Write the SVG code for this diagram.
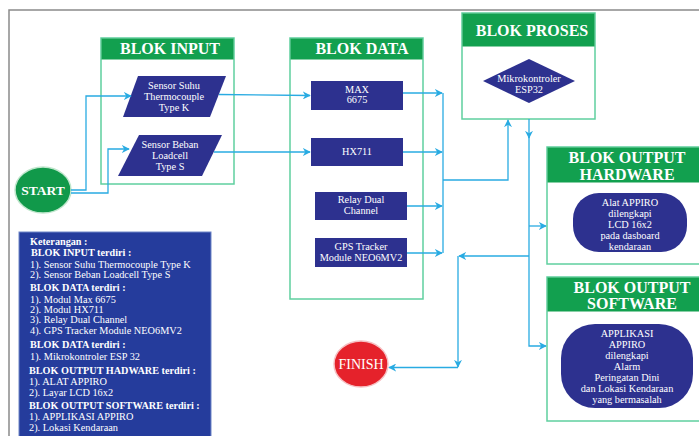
<svg xmlns="http://www.w3.org/2000/svg" width="699" height="436" viewBox="0 0 699 436">
<defs>
<style>
.frame{fill:none;stroke:#8a8a8a;stroke-width:1.5}
.blk{fill:#ffffff;stroke:#5fcf9f;stroke-width:1.5}
.hdr{fill:#12a04f}
.ttl{font-family:"Liberation Serif",serif;font-weight:bold;font-size:16px;fill:#ffffff;text-anchor:middle}
.nd{fill:#2d318f}
.nt{font-family:"Liberation Serif",serif;font-size:10.3px;fill:#ffffff;text-anchor:middle}
.lg{font-family:"Liberation Serif",serif;font-size:10.3px;fill:#ffffff}
.lgb{font-family:"Liberation Serif",serif;font-size:10.2px;font-weight:bold;fill:#ffffff}
.cn{fill:none;stroke:#29abe2;stroke-width:1.3}
</style>
<marker id="ar" viewBox="0 0 10 10" refX="9" refY="5" markerWidth="8" markerHeight="8" markerUnits="userSpaceOnUse" orient="auto">
<path d="M0,0 L10,5 L0,10 L3,5 Z" fill="#29abe2"/>
</marker>
</defs>
<rect x="0" y="0" width="699" height="436" fill="#ffffff"/>
<rect class="frame" x="9" y="10" width="700" height="440"/>

<g id="blok-input">
<rect class="blk" x="101" y="38" width="133" height="146"/>
<rect class="hdr" x="101.5" y="38.5" width="132" height="21"/>
<text class="ttl" x="170" y="54">BLOK INPUT</text>
</g>
<g id="sensor-suhu">
<polygon class="nd" points="138,76 226,76 210,117 123,117"/>
<text class="nt" x="174" y="89">Sensor Suhu</text>
<text class="nt" x="174" y="100">Thermocouple</text>
<text class="nt" x="174" y="111">Type K</text>
</g>
<g id="sensor-beban">
<polygon class="nd" points="139,135 222,135 202,176 118,176"/>
<text class="nt" x="170" y="148">Sensor Beban</text>
<text class="nt" x="170" y="159">Loadcell</text>
<text class="nt" x="170" y="170">Type S</text>
</g>

<g id="blok-data">
<rect class="blk" x="290" y="38" width="133" height="261"/>
<rect class="hdr" x="290.5" y="38.5" width="132" height="21"/>
<text class="ttl" x="362" y="54">BLOK DATA</text>
</g>
<g id="max6675">
<rect class="nd" x="311" y="81" width="92" height="29"/>
<text class="nt" x="357" y="93">MAX</text>
<text class="nt" x="357" y="103">6675</text>
</g>
<g id="hx711">
<rect class="nd" x="311" y="138" width="92" height="28"/>
<text class="nt" x="357" y="155">HX711</text>
</g>
<g id="relay">
<rect class="nd" x="315" y="192" width="92" height="28"/>
<text class="nt" x="361" y="203">Relay Dual</text>
<text class="nt" x="361" y="214">Channel</text>
</g>
<g id="gps">
<rect class="nd" x="315" y="238" width="92" height="29"/>
<text class="nt" x="361" y="250">GPS Tracker</text>
<text class="nt" x="361" y="261">Module NEO6MV2</text>
</g>

<g id="blok-proses">
<rect class="blk" x="462" y="13" width="133" height="106"/>
<rect class="hdr" x="462.5" y="13.5" width="132" height="33"/>
<text class="ttl" x="532" y="36">BLOK PROSES</text>
</g>
<g id="esp32">
<polygon class="nd" points="483,81 529,59 575,81 529,103"/>
<text class="nt" x="529" y="82">Mikrokontroler</text>
<text class="nt" x="529" y="93">ESP32</text>
</g>

<g id="blok-output-hardware">
<rect class="blk" x="547" y="147" width="170" height="117"/>
<rect class="hdr" x="547.5" y="147.5" width="169" height="35"/>
<text class="ttl" x="627" y="163">BLOK OUTPUT</text>
<text class="ttl" x="627" y="180">HARDWARE</text>
</g>
<g id="alat-appiro">
<rect class="nd" x="573" y="193" width="114" height="59" rx="26" ry="26"/>
<text class="nt" x="630" y="206">Alat APPIRO</text>
<text class="nt" x="630" y="217">dilengkapi</text>
<text class="nt" x="630" y="228">LCD 16x2</text>
<text class="nt" x="630" y="239">pada dasboard</text>
<text class="nt" x="630" y="250">kendaraan</text>
</g>

<g id="blok-output-software">
<rect class="blk" x="547" y="277" width="170" height="144"/>
<rect class="hdr" x="547.5" y="277.5" width="169" height="34"/>
<text class="ttl" x="632" y="293">BLOK OUTPUT</text>
<text class="ttl" x="632" y="309">SOFTWARE</text>
</g>
<g id="aplikasi-appiro">
<rect class="nd" x="561" y="324" width="132" height="84" rx="34" ry="34"/>
<text class="nt" x="627" y="337">APPLIKASI</text>
<text class="nt" x="627" y="348">APPIRO</text>
<text class="nt" x="627" y="359">dilengkapi</text>
<text class="nt" x="627" y="370">Alarm</text>
<text class="nt" x="627" y="381">Peringatan Dini</text>
<text class="nt" x="627" y="392">dan Lokasi Kendaraan</text>
<text class="nt" x="627" y="403">yang bermasalah</text>
</g>

<g id="start">
<ellipse cx="43" cy="190" rx="28" ry="23" fill="#11994a" stroke="#bfe6cc" stroke-width="1.5"/>
<text x="43" y="195" font-family="Liberation Serif, serif" font-size="13.5" font-weight="bold" fill="#ffffff" text-anchor="middle">START</text>
</g>
<g id="finish">
<ellipse cx="361" cy="364" rx="27" ry="23" fill="#e5222b" stroke="#f6c0c3" stroke-width="1.5"/>
<text x="361" y="369" font-family="Liberation Serif, serif" font-size="14" fill="#ffffff" text-anchor="middle">FINISH</text>
</g>

<g id="keterangan">
<rect x="19" y="232" width="192" height="220" fill="#253c9c" stroke="#6f86c8" stroke-width="1"/>
<text class="lgb" x="30" y="244.5">Keterangan :</text>
<text class="lgb" x="31" y="256">BLOK INPUT terdiri :</text>
<text class="lg" x="30" y="267.5">1). Sensor Suhu Thermocouple Type K</text>
<text class="lg" x="30" y="278">2). Sensor Beban Loadcell Type S</text>
<text class="lgb" x="30" y="290.5">BLOK DATA terdiri :</text>
<text class="lg" x="30" y="302.5">1). Modul Max 6675</text>
<text class="lg" x="30" y="312.5">2). Modul HX711</text>
<text class="lg" x="30" y="323">3). Relay Dual Channel</text>
<text class="lg" x="30" y="333.5">4). GPS Tracker Module NEO6MV2</text>
<text class="lgb" x="30" y="347.5">BLOK DATA terdiri :</text>
<text class="lg" x="30" y="359.5">1). Mikrokontroler ESP 32</text>
<text class="lgb" x="29" y="373.5">BLOK OUTPUT HADWARE terdiri :</text>
<text class="lg" x="29" y="384.5">1). ALAT APPIRO</text>
<text class="lg" x="29" y="395.5">2). Layar LCD 16x2</text>
<text class="lgb" x="29" y="408.5">BLOK OUTPUT SOFTWARE terdiri :</text>
<text class="lg" x="29" y="419.5">1). APPLIKASI APPIRO</text>
<text class="lg" x="29" y="430.5">2). Lokasi Kendaraan</text>
</g>

<g id="connectors">
<path class="cn" d="M71,190 H86 V96 H131" marker-end="url(#ar)"/>
<path class="cn" d="M71,193 H108 V149 H129" marker-end="url(#ar)"/>
<path class="cn" d="M219,94.5 L310,95.5" marker-end="url(#ar)"/>
<path class="cn" d="M214,152 H310" marker-end="url(#ar)"/>
<path class="cn" d="M403,93 H442" marker-end="url(#ar)"/>
<path class="cn" d="M403,152 H442" marker-end="url(#ar)"/>
<path class="cn" d="M407,206 H442" marker-end="url(#ar)"/>
<path class="cn" d="M407,253 H442" marker-end="url(#ar)"/>
<path class="cn" d="M443,93 V253"/>
<path class="cn" d="M443,180 H508 V120" marker-end="url(#ar)"/>
<path class="cn" d="M529,119 V138" marker-end="url(#ar)"/>
<path class="cn" d="M529,137 V346 H546" marker-end="url(#ar)"/>
<path class="cn" d="M529,226 H546" marker-end="url(#ar)"/>
<path class="cn" d="M529,256 H459" marker-end="url(#ar)"/>
<path class="cn" d="M458,256 V367" marker-end="url(#ar)"/>
<path class="cn" d="M458,367.5 H389" marker-end="url(#ar)"/>
</g>
</svg>
